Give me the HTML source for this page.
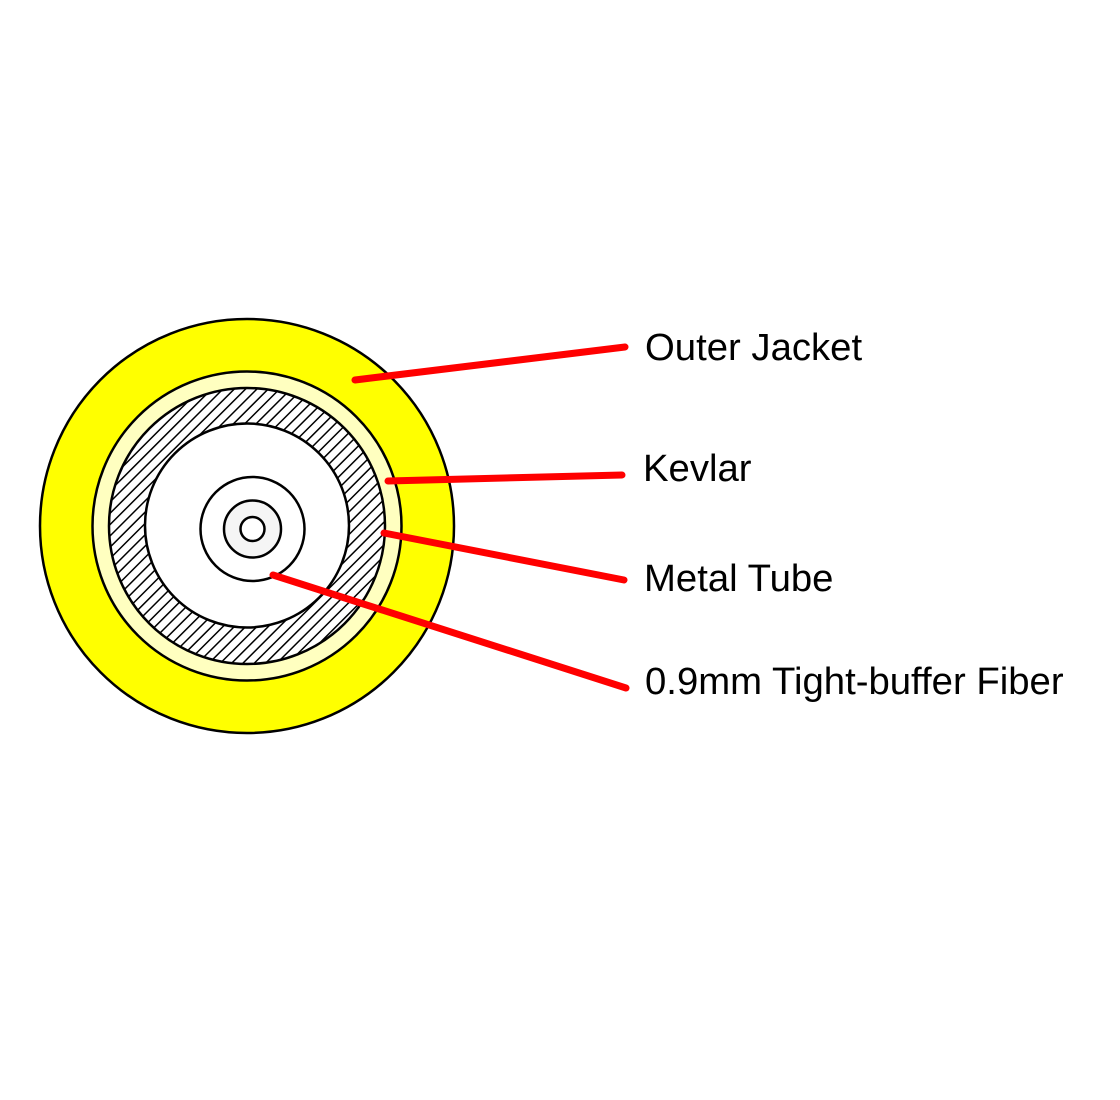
<!DOCTYPE html>
<html><head><meta charset="utf-8"><style>
html,body{margin:0;padding:0;background:#fff;width:1120px;height:1100px;overflow:hidden}
svg{display:block}
text{font-family:"Liberation Sans",Arial,sans-serif;font-size:38.3px;fill:#000}
</style></head><body>
<svg width="1120" height="1100" viewBox="0 0 1120 1100">
<defs>
<pattern id="h" patternUnits="userSpaceOnUse" width="8" height="8" patternTransform="rotate(45)">
<rect width="8" height="8" fill="#fff"/>
<line x1="0" y1="0" x2="0" y2="8" stroke="#000" stroke-width="3"/>
</pattern>
</defs>
<circle cx="247" cy="526" r="207" fill="#ffff00" stroke="#000" stroke-width="2.5"/>
<circle cx="247" cy="526" r="154.5" fill="#ffffc0" stroke="#000" stroke-width="2.5"/>
<circle cx="247" cy="526" r="138" fill="url(#h)" stroke="#000" stroke-width="2.5"/>
<circle cx="247" cy="525.5" r="102" fill="#fff" stroke="#000" stroke-width="2.5"/>
<circle cx="252.5" cy="529" r="52" fill="#fff" stroke="#000" stroke-width="2.5"/>
<circle cx="252.5" cy="529" r="28.5" fill="#f5f5f5" stroke="#000" stroke-width="2.5"/>
<circle cx="252.5" cy="529" r="12" fill="#fff" stroke="#000" stroke-width="2.5"/>
<g stroke="#ff0000" stroke-width="7" stroke-linecap="round">
<line x1="355" y1="380" x2="625" y2="347"/>
<line x1="388" y1="481" x2="622" y2="475"/>
<line x1="384" y1="533" x2="624" y2="580"/>
<line x1="273" y1="575" x2="626" y2="688"/>
</g>
<text x="645" y="360">Outer Jacket</text>
<text x="643" y="481">Kevlar</text>
<text x="644" y="591">Metal Tube</text>
<text x="645" y="694">0.9mm Tight-buffer Fiber</text>
</svg>
</body></html>
